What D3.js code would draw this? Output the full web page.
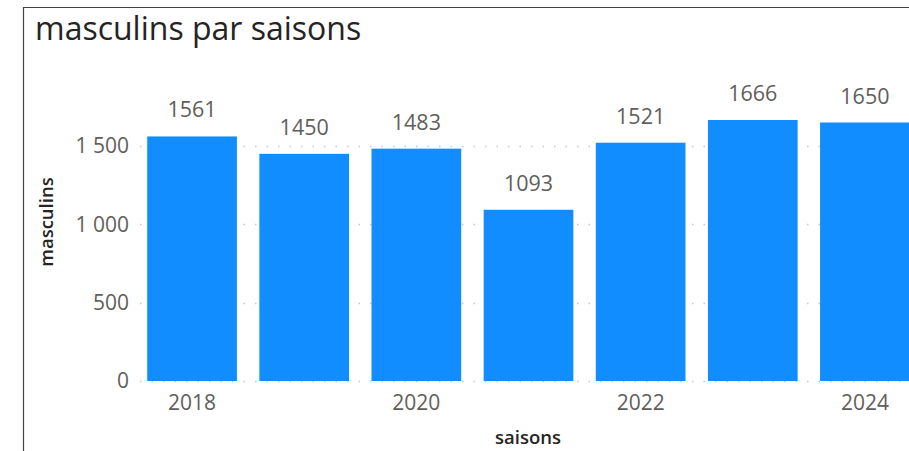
<!DOCTYPE html>
<html><head><meta charset="utf-8">
<script src="https://cdn.jsdelivr.net/npm/d3@7"></script>
<style>body{margin:0;background:#fff;overflow:hidden}svg{display:block}</style>
</head><body>
<svg id="c" width="909" height="451"></svg>
<script>
const categories = ["2018","2019","2020","2021","2022","2023","2024"];
const masculins = [1561,1450,1483,1093,1521,1666,1650];
const yTicks = [0,500,1000,1500];
const xTickLabels = ["2018","2020","2022","2024"];

const svg = d3.select("#c");
const font = "'Open Sans', 'Segoe UI', sans-serif";
// frame
svg.append("path").attr("d","M23.5,451 V7.5 H909").attr("fill","none").attr("stroke","#444").attr("stroke-width",1.2);
svg.append("text").attr("x",35).attr("y",40).attr("font-family",font).attr("font-size",32)
  .attr("fill","#252423").text("masculins par saisons");

const x = d3.scaleBand().domain(categories).range([136,921]).paddingInner(0.2).paddingOuter(0.1);
const y = d3.scaleLinear().domain([0,1500]).range([381,146]);

// gridlines
const g = svg.append("g");
g.selectAll("line.grid").data(yTicks).join("line")
  .attr("x1",140).attr("x2",909).attr("y1",d=>Math.round(y(d))+0.5).attr("y2",d=>Math.round(y(d))+0.5)
  .attr("stroke","#c8c8c8").attr("stroke-width",1.5).attr("stroke-dasharray","1.5,10");

// bars
svg.selectAll("rect.bar").data(categories).join("rect")
  .attr("x",d=>x(d)).attr("width",x.bandwidth())
  .attr("y",(d,i)=>y(masculins[i])).attr("height",(d,i)=>y(0)-y(masculins[i]))
  .attr("fill","#118DFF");

// data labels
svg.selectAll("text.lbl").data(categories).join("text")
  .attr("x",d=>x(d)+x.bandwidth()/2).attr("y",(d,i)=>y(masculins[i])-19)
  .attr("text-anchor","middle").attr("font-family",font).attr("font-size",21.5).attr("fill","#605E5C")
  .text((d,i)=>masculins[i]);

// y axis
const fmt = v => d3.format(",")(v).replace(/,/g," ");
const yAxis = d3.axisLeft(y).tickValues(yTicks).tickSize(0).tickPadding(0).tickFormat(fmt);
const ya = svg.append("g").attr("transform","translate(129,0)").call(yAxis);
ya.select(".domain").remove();
ya.selectAll("text").attr("font-family",font).attr("font-size",21).attr("fill","#605E5C");

// x axis
const xAxis = d3.axisBottom(x).tickSize(0).tickPadding(0).tickFormat(d=>xTickLabels.includes(d)?d:"");
const xa = svg.append("g").attr("transform","translate(0,395)").call(xAxis);
xa.select(".domain").remove();
xa.selectAll("text").attr("font-family",font).attr("font-size",21).attr("fill","#605E5C");

// axis titles
svg.append("text").attr("transform","translate(53,222) rotate(-90)").attr("text-anchor","middle")
  .attr("font-family",font).attr("font-size",18.5).attr("font-weight",600).attr("fill","#252423").text("masculins");
svg.append("text").attr("x",528).attr("y",444).attr("text-anchor","middle")
  .attr("font-family",font).attr("font-size",18.5).attr("font-weight",600).attr("fill","#252423").text("saisons");
</script>
</body></html>
